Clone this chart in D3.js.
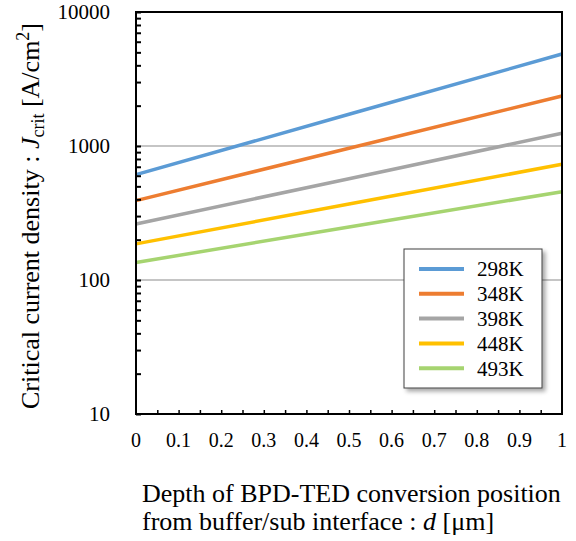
<!DOCTYPE html>
<html><head><meta charset="utf-8">
<script src="https://cdn.jsdelivr.net/npm/d3@7"></script>
<style>body{margin:0;background:#fff}</style>
</head><body><svg id="c" width="576" height="541"></svg>
<script>
const depths = [0, 0.5, 1];
const seriesNames = ["298K", "348K", "398K", "448K", "493K"];
const values298 = [611, 1725, 4860];
const values348 = [391, 961, 2361];
const values398 = [262, 570, 1244];
const values448 = [186, 369, 730];
const values493 = [135, 249, 456];
const colors = ["#5B9BD5", "#ED7D31", "#A5A5A5", "#FFC000", "#A6D470"];
const xTicks = [0, 0.1, 0.2, 0.3, 0.4, 0.5, 0.6, 0.7, 0.8, 0.9, 1];
const yTicks = [10, 100, 1000, 10000];

const FONT = "'Liberation Serif', 'Times New Roman', serif";
const allSeries = [values298, values348, values398, values448, values493];
const svg = d3.select("#c");
const L = 136, R = 562, T = 12, B = 414;
const x = d3.scaleLinear().domain([0, 1]).range([L, R]);
const y = d3.scaleLog().domain([10, 10000]).range([B, T]);

// grid
svg.append("g").selectAll("line").data([100, 1000]).join("line")
  .attr("x1", L).attr("x2", R).attr("y1", d => y(d)).attr("y2", d => y(d))
  .attr("stroke", "#8c8c8c").attr("stroke-width", 1.2);

// lines
const line = d3.line().x((d, i) => x(depths[i])).y(d => y(d));
svg.append("g").selectAll("path").data(allSeries).join("path")
  .attr("d", line).attr("fill", "none")
  .attr("stroke", (d, i) => colors[i]).attr("stroke-width", 3.5);

// frame
svg.append("rect").attr("x", L).attr("y", T).attr("width", R - L).attr("height", B - T)
  .attr("fill", "none").attr("stroke", "#000").attr("stroke-width", 2);

// y axis
const minorY = [];
for (let dec = 10; dec < 10000; dec *= 10) for (let k = 2; k <= 9; k++) minorY.push(dec * k);
const yAxis = svg.append("g").attr("transform", `translate(${L},0)`)
  .call(d3.axisRight(y).tickValues(yTicks.concat(minorY)).tickSize(5).tickFormat(""));
yAxis.select(".domain").remove();
yAxis.selectAll("line").attr("stroke", "#000").attr("stroke-width", 2);
svg.append("g").selectAll("text").data(yTicks).join("text")
  .attr("x", 110).attr("y", d => y(d)).attr("dy", "0.35em").style("font-family", FONT)
  .attr("text-anchor", "end").attr("font-size", 21).text(d => d);

// x axis
const minorX = d3.range(1, 20).map(i => i / 20);
const xAxis = svg.append("g").attr("transform", `translate(0,${B})`)
  .call(d3.axisTop(x).tickValues(minorX).tickSize(4).tickFormat(""));
xAxis.select(".domain").remove();
xAxis.selectAll("line").attr("stroke", "#000").attr("stroke-width", 1.5);
svg.append("g").selectAll("text").data(xTicks).join("text")
  .attr("x", d => x(d)).attr("y", 447).style("font-family", FONT)
  .attr("text-anchor", "middle").attr("font-size", 20).text(d => d);

// axis titles
const yt = svg.append("text").attr("transform", "translate(39,216) rotate(-90)").style("font-family", FONT)
  .attr("text-anchor", "middle").attr("font-size", 26);
yt.append("tspan").text("Critical current density : ");
yt.append("tspan").attr("font-style", "italic").text("J");
yt.append("tspan").attr("font-size", 18).attr("dy", 5).text("crit");
yt.append("tspan").attr("dy", -5).text(" [A/cm");
yt.append("tspan").attr("font-size", 18).attr("dy", -10).text("2");
yt.append("tspan").attr("dy", 10).text("]");

svg.append("text").attr("x", 142).attr("y", 502).attr("font-size", 26).style("font-family", FONT)
  .text("Depth of BPD-TED conversion position");
const xt2 = svg.append("text").attr("x", 142).attr("y", 530).attr("font-size", 26).style("font-family", FONT);
xt2.append("tspan").text("from buffer/sub interface : ");
xt2.append("tspan").attr("font-style", "italic").text("d");
xt2.append("tspan").text(" [\u03bcm]");

// legend
const defs = svg.append("defs");
const f = defs.append("filter").attr("id", "sh").attr("x", "-20%").attr("y", "-20%").attr("width", "150%").attr("height", "150%");
f.append("feDropShadow").attr("dx", 3).attr("dy", 3).attr("stdDeviation", 2).attr("flood-color", "#000").attr("flood-opacity", 0.35);
svg.append("rect").attr("x", 404).attr("y", 249).attr("width", 138).attr("height", 139)
  .attr("fill", "#fff").attr("stroke", "#404040").attr("stroke-width", 1).attr("filter", "url(#sh)");
const lg = svg.append("g").selectAll("g").data(seriesNames).join("g")
  .attr("transform", (d, i) => `translate(0,${269 + i * 24.8})`);
lg.append("line").attr("x1", 419).attr("x2", 464).attr("stroke", (d, i) => colors[i]).attr("stroke-width", 4);
lg.append("text").attr("x", 477).attr("dy", "0.35em").attr("font-size", 21).style("font-family", FONT).text(d => d);
</script></body></html>
